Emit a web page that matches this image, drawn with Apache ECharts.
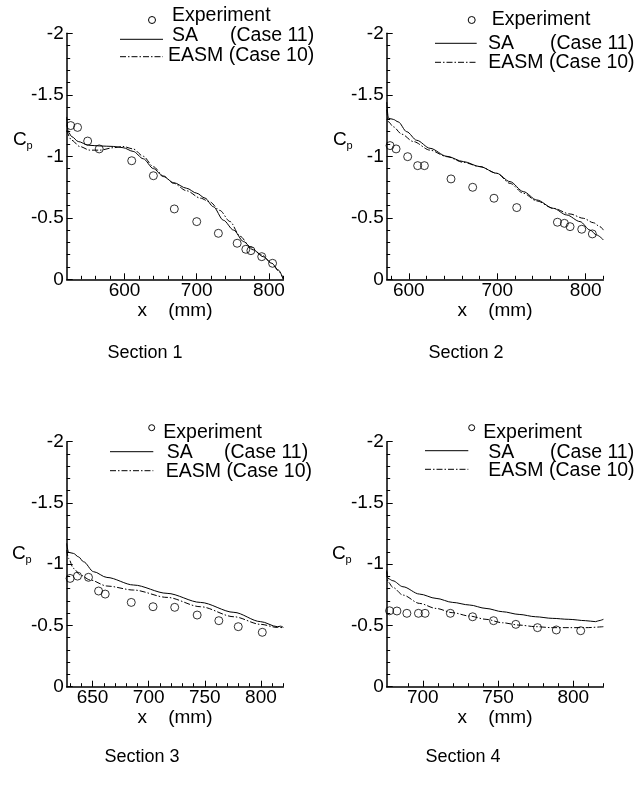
<!DOCTYPE html>
<html>
<head>
<meta charset="utf-8">
<script src="https://cdn.jsdelivr.net/npm/echarts@6/dist/echarts.min.js"></script>
<style>
html, body { margin: 0; padding: 0; background: #fff; }
#chart { width: 640px; height: 785px; }
</style>
</head>
<body>
<div id="chart"></div>
<script>
// values, x in mm, Cp
var exp1 = [[525.5,-1.25],[535,-1.235],[549,-1.124],[565,-1.06],[610,-0.964],[640,-0.842],[669,-0.572],[700,-0.469],[730,-0.374],[756,-0.293],[768,-0.244],[775,-0.233],[790,-0.184],[805,-0.13]];
var sa1 = [[520,-1.32],[522,-1.2],[527,-1.16],[536,-1.12],[550,-1.09],[566,-1.084],[585,-1.08],[598,-1.07],[612,-1.04],[626,-0.98],[640,-0.9],[654,-0.835],[668,-0.786],[686,-0.74],[700,-0.7],[711.5,-0.66],[723,-0.59],[737,-0.48],[751,-0.4],[765,-0.306],[778,-0.24],[792,-0.184],[804,-0.13],[813,-0.076],[820,0]];
var easm1 = [[520,-1.21],[527,-1.13],[538,-1.08],[552,-1.05],[566,-1.05],[585,-1.07],[598,-1.08],[612,-1.06],[626,-1.0],[640,-0.915],[654,-0.84],[668,-0.78],[686,-0.72],[705,-0.66],[718,-0.63],[732,-0.56],[746,-0.47],[760,-0.35],[774,-0.265],[790,-0.198],[804,-0.13],[813,-0.07],[820,0]];

var exp2 = [[578.8,-1.087],[585.6,-1.06],[598.7,-0.997],[610,-0.924],[617.6,-0.924],[647.7,-0.816],[672.2,-0.748],[696.3,-0.659],[722,-0.583],[768,-0.464],[775.9,-0.455],[782.3,-0.428],[795.5,-0.407],[807.5,-0.369]];
var sa2 = [[575,-1.44],[576.9,-1.31],[582.5,-1.3],[588,-1.28],[597.6,-1.2],[609,-1.13],[624,-1.065],[643,-1.0],[661.7,-0.957],[680.5,-0.916],[699.4,-0.862],[714.4,-0.794],[729.5,-0.713],[744.6,-0.645],[763.4,-0.577],[778.5,-0.523],[793.6,-0.469],[804.9,-0.4],[812.4,-0.36],[820,-0.32]];
var easm2 = [[575,-1.38],[577,-1.28],[582.5,-1.24],[592,-1.18],[605,-1.12],[624,-1.05],[643,-0.997],[661.7,-0.951],[680.5,-0.916],[699.4,-0.862],[714.4,-0.78],[729.5,-0.7],[744.6,-0.637],[763.4,-0.577],[782.3,-0.531],[797.3,-0.496],[808.7,-0.46],[816.2,-0.428],[820,-0.4]];

var exp3 = [[630,-0.884],[636.6,-0.903],[646.4,-0.893],[655.4,-0.781],[661.3,-0.756],[684.5,-0.688],[703.9,-0.653],[723.2,-0.648],[743.2,-0.585],[762.5,-0.539],[779.8,-0.49],[801.2,-0.444]];
var sa3 = [[627,-1.17],[628.6,-1.097],[633,-1.088],[637.5,-1.06],[642,-1.02],[650.9,-0.939],[662.8,-0.892],[686.6,-0.83],[716.4,-0.762],[746.1,-0.688],[775.9,-0.607],[799.7,-0.531],[814.6,-0.49],[817.6,-0.494],[820,-0.484]];
var easm3 = [[627,-1.116],[628.6,-1.048],[633,-0.966],[639,-0.912],[648,-0.871],[662.8,-0.822],[686.6,-0.789],[716.4,-0.729],[746.1,-0.653],[775.9,-0.571],[799.7,-0.509],[814.6,-0.484],[820,-0.482]];

var exp4 = [[677.9,-0.62],[682.8,-0.618],[689.4,-0.599],[697.1,-0.599],[701.5,-0.599],[718.3,-0.599],[733.1,-0.571],[747,-0.539],[761.8,-0.509],[776.2,-0.482],[788.7,-0.463],[804.9,-0.457]];
var sa4 = [[676,-0.95],[676.8,-0.884],[680.1,-0.865],[686.8,-0.816],[697.8,-0.756],[708.8,-0.721],[719.9,-0.688],[730.9,-0.667],[742,-0.639],[753,-0.612],[764,-0.59],[775,-0.571],[786,-0.558],[797,-0.55],[808.2,-0.539],[814.8,-0.531],[817,-0.539],[820,-0.55]];
var easm4 = [[676,-0.94],[676.8,-0.857],[680.1,-0.811],[686.8,-0.748],[697.8,-0.68],[708.8,-0.639],[719.9,-0.604],[730.9,-0.577],[742,-0.55],[753,-0.522],[764,-0.503],[775,-0.49],[786,-0.482],[797,-0.482],[808.2,-0.482],[820,-0.49]];

var xRanges = [[520, 820], [575, 820], [627, 820], [676, 820]];
var xMajor = [[600, 700, 800], [600, 700, 800], [650, 700, 750, 800], [700, 750, 800]];
var xMinorFrom = [540, 580, 630, 690];
var xMinorStep = [20, 20, 10, 10];
var sections = ['Section 1', 'Section 2', 'Section 3', 'Section 4'];
var legendNames = ['Experiment', 'SA', '(Case 11)', 'EASM (Case 10)'];

var expData = [exp1, exp2, exp3, exp4];
var saData = [sa1, sa2, sa3, sa4];
var easmData = [easm1, easm2, easm3, easm4];

var FONT = "'Liberation Sans', Arial, Helvetica, sans-serif";
var DASHDOT = [6, 2, 1.5, 2];

// panel frames
var grids = [
  { left: 66.7, top: 33.3, width: 216.7, height: 246 },
  { left: 386.7, top: 33.3, width: 216.7, height: 246 },
  { left: 66.7, top: 441.7, width: 216.7, height: 245 },
  { left: 386.7, top: 441.7, width: 216.7, height: 245 }
];

// legend / label placement per panel
var legendPos = [
  { cx: 152, cy: 20, r: 3.5, ex: 172, ey: 16, l1: 120, l2: 163, sy: 39.3, sax: 172, cax: 230, st: 36, dy: 56.7, eax: 168, et: 55.5 },
  { cx: 471.7, cy: 20, r: 3.5, ex: 491.7, ey: 20, l1: 435, l2: 476.7, sy: 43.3, sax: 488, cax: 550, st: 43.5, dy: 62.3, eax: 488.3, et: 63 },
  { cx: 151.7, cy: 427.7, r: 3, ex: 163.3, ey: 432.5, l1: 110, l2: 153.3, sy: 451.7, sax: 166.7, cax: 224, st: 453, dy: 470.7, eax: 165.7, et: 472 },
  { cx: 471.7, cy: 427.7, r: 3, ex: 483.3, ey: 432.5, l1: 425, l2: 468.3, sy: 450.7, sax: 488.3, cax: 550, st: 452.5, dy: 469.3, eax: 488.3, et: 470.5 }
];
var cpPos = [[13, 140], [333, 140], [12, 554], [332, 554]];
var sectionPos = [[145, 353], [466, 353], [142, 757], [463, 757]];

function range(from, to, step) {
  var out = [];
  for (var v = from; v <= to + 1e-9; v += step) out.push(v);
  return out;
}

var xAxes = [], yAxes = [], series = [], graphics = [];

for (var i = 0; i < 4; i++) {
  grids[i].containLabel = false;
  grids[i].outerBoundsMode = 'none';

  xAxes.push({
    type: 'value', gridIndex: i, position: 'bottom',
    min: xRanges[i][0], max: xRanges[i][1],
    axisLine: { show: true, onZero: false, lineStyle: { color: '#000', width: 1.5 } },
    axisTick: { show: true, inside: true, length: 6, customValues: xMajor[i], lineStyle: { color: '#000', width: 1 } },
    axisLabel: { customValues: xMajor[i], color: '#000', fontSize: 19, fontFamily: FONT, margin: 2 },
    splitLine: { show: false },
    name: 'x    (mm)', nameLocation: 'middle', nameGap: 20,
    nameTextStyle: { color: '#000', fontSize: 19, fontFamily: FONT, verticalAlign: 'top' }
  });
  xAxes.push({
    type: 'value', gridIndex: i, position: 'bottom',
    min: xRanges[i][0], max: xRanges[i][1],
    axisLine: { show: false, onZero: false },
    axisTick: { show: true, inside: true, length: 3.5, customValues: range(xMinorFrom[i], xRanges[i][1], xMinorStep[i]), lineStyle: { color: '#000', width: 1 } },
    axisLabel: { show: false },
    splitLine: { show: false }
  });

  yAxes.push({
    type: 'value', gridIndex: i, inverse: true,
    min: -2, max: 0, interval: 0.5,
    axisLine: { show: true, onZero: false, lineStyle: { color: '#000', width: 1.5 } },
    axisTick: { show: true, inside: true, length: 6, lineStyle: { color: '#000', width: 1 } },
    minorTick: { show: true, splitNumber: 5, length: 3.5, lineStyle: { color: '#000', width: 1 } },
    axisLabel: { color: '#000', fontSize: 19, fontFamily: FONT, margin: 3 },
    splitLine: { show: false }
  });

  series.push({
    name: 'SA', type: 'line', xAxisIndex: 2 * i, yAxisIndex: i,
    data: saData[i], showSymbol: false, symbol: 'none',
    smooth: 0.3, smoothMonotone: 'x',
    lineStyle: { color: '#000', width: 1 }, silent: true, animation: false
  });
  series.push({
    name: 'EASM', type: 'line', xAxisIndex: 2 * i, yAxisIndex: i,
    data: easmData[i], showSymbol: false, symbol: 'none',
    smooth: 0.3, smoothMonotone: 'x',
    lineStyle: { color: '#000', width: 1, type: DASHDOT }, silent: true, animation: false
  });
  series.push({
    name: 'Experiment', type: 'scatter', xAxisIndex: 2 * i, yAxisIndex: i,
    data: expData[i], symbol: 'circle', symbolSize: 8,
    itemStyle: { color: 'rgba(0,0,0,0)', borderColor: '#000', borderWidth: 1 },
    silent: true, animation: false
  });

  var L = legendPos[i];
  var txt = function (x, y, s, size, align) {
    return { type: 'text', x: x, y: y, silent: true,
      style: { text: s, fill: '#000', fontSize: size, fontFamily: FONT, align: align || 'left', verticalAlign: 'middle' } };
  };
  graphics.push({ type: 'circle', silent: true, shape: { cx: L.cx, cy: L.cy, r: L.r }, style: { fill: 'none', stroke: '#000', lineWidth: 1 } });
  graphics.push(txt(L.ex, L.ey, legendNames[0], 19.5));
  graphics.push({ type: 'line', silent: true, shape: { x1: L.l1, y1: L.sy, x2: L.l2, y2: L.sy }, style: { stroke: '#000', lineWidth: 1 } });
  graphics.push(txt(L.sax, L.st, legendNames[1], 19.5));
  graphics.push(txt(L.cax, L.st, legendNames[2], 19.5));
  graphics.push({ type: 'line', silent: true, shape: { x1: L.l1, y1: L.dy, x2: L.l2, y2: L.dy }, style: { stroke: '#000', lineWidth: 1, lineDash: DASHDOT } });
  graphics.push(txt(L.eax, L.et, legendNames[3], 19.5));

  graphics.push(txt(cpPos[i][0], cpPos[i][1], 'C', 19));
  graphics.push(txt(cpPos[i][0] + 13.5, cpPos[i][1] + 6, 'p', 11));

  graphics.push(txt(sectionPos[i][0], sectionPos[i][1], sections[i], 18, 'center'));
}

var chart = echarts.init(document.getElementById('chart'), null, { renderer: 'canvas' });
chart.setOption({
  animation: false,
  backgroundColor: '#fff',
  grid: grids,
  xAxis: xAxes,
  yAxis: yAxes,
  series: series,
  graphic: graphics
});
</script>
</body>
</html>
